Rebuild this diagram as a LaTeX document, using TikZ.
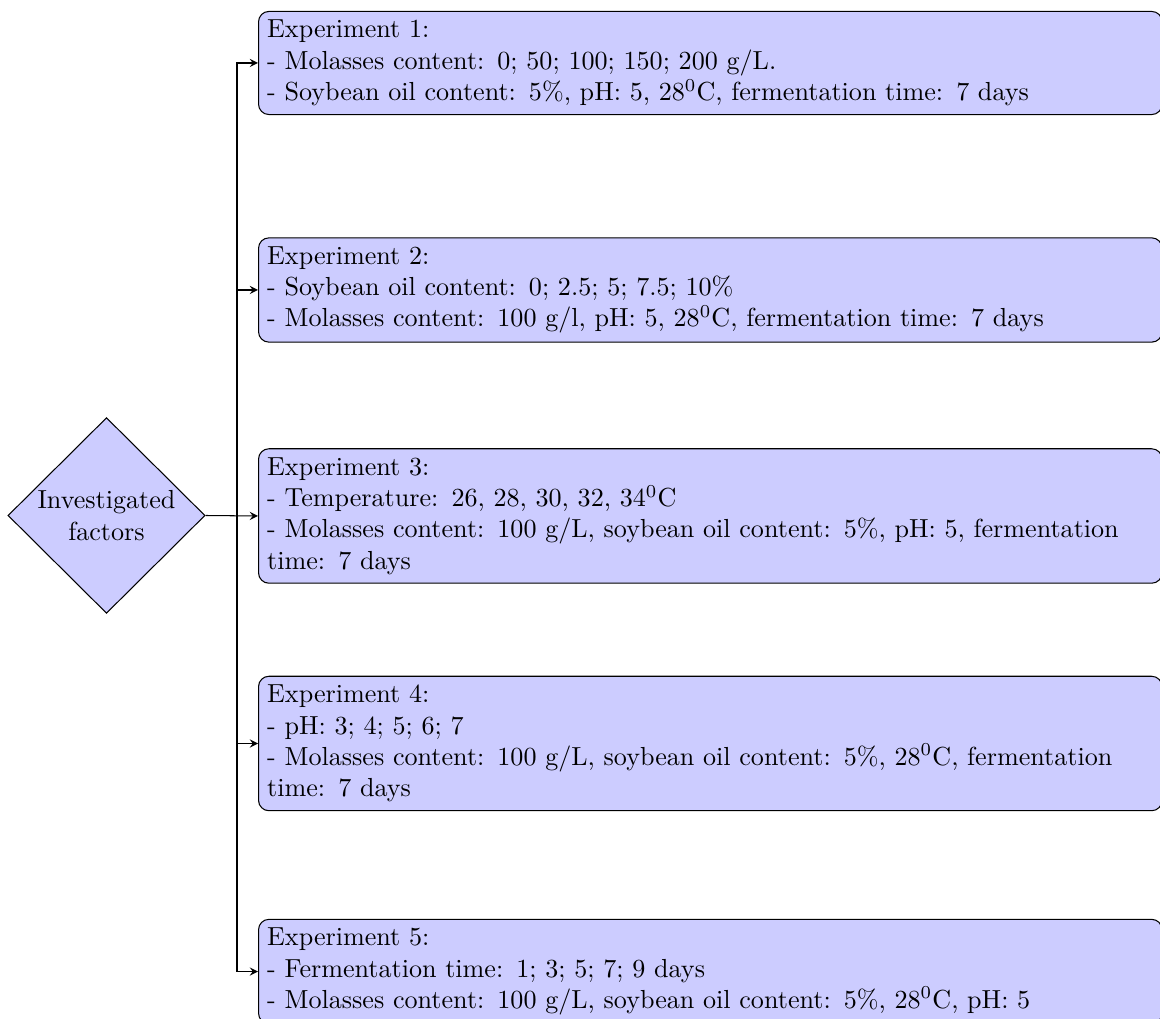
\documentclass[tikz,border=0pt]{standalone}
\usetikzlibrary{shapes.geometric,arrows}
\begin{document}
\begin{tikzpicture}[x=0.3831pt,y=-0.3831pt,
  expbox/.style={draw, fill=blue!20, rounded corners, text width=339.5pt, align=left, anchor=west, inner sep=0.333em},
  factor/.style={draw, fill=blue!20, diamond, aspect=1, inner sep=0pt, minimum width=75.5pt, minimum height=75pt, align=center},
  arr/.style={-stealth}]
\useasboundingbox (0,0) rectangle (1160,1019);
\node[factor] (d) at (106.5,515.5) {Investigated\\factors};
\node[expbox] (b1) at (258,63) {Experiment 1:\\
- Molasses content: 0; 50; 100; 150; 200 g/L.\\
- Soybean oil content: 5\%, pH: 5, 28$^0$C, fermentation time: 7 days};
\node[expbox] (b2) at (258,290) {Experiment 2:\\
- Soybean oil content: 0; 2.5; 5; 7.5; 10\%\\
- Molasses content: 100 g/l, pH: 5, 28$^0$C, fermentation time: 7 days};
\node[expbox] (b3) at (258,516) {Experiment 3:\\
- Temperature: 26, 28, 30, 32, 34$^0$C\\
- Molasses content: 100 g/L, soybean oil content: 5\%, pH: 5, fermentation time: 7 days};
\node[expbox] (b4) at (258,743.5) {Experiment 4:\\
- pH: 3; 4; 5; 6; 7\\
- Molasses content: 100 g/L, soybean oil content: 5\%, 28$^0$C, fermentation time: 7 days};
\node[expbox] (b5) at (258,971.5) {Experiment 5:\\
- Fermentation time: 1; 3; 5; 7; 9 days\\
- Molasses content: 100 g/L, soybean oil content: 5\%, 28$^0$C, pH: 5};
\coordinate (j) at (237,515.5);
\draw[arr] (d.east) -- (b3.west);
\draw[arr] (j) |- (b1.west);
\draw[arr] (j) |- (b2.west);
\draw[arr] (j) |- (b4.west);
\draw[arr] (j) |- (b5.west);
\end{tikzpicture}
\end{document}
